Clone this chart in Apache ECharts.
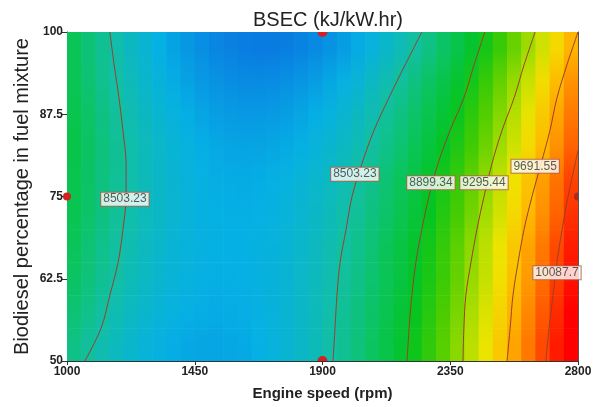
<!DOCTYPE html>
<html><head><meta charset="utf-8">
<script src="https://cdn.jsdelivr.net/npm/echarts@6/dist/echarts.min.js"></script>
<style>html,body{margin:0;padding:0;background:#fff}#chart{width:601px;height:407px}</style>
</head><body><div id="chart"></div>
<script>
// ---- data ----
const titleText = 'BSEC (kJ/kW.hr)';
const xName = 'Engine speed (rpm)';
const yName = 'Biodiesel percentage in fuel mixture';
const xTickValues = [1000, 1450, 1900, 2350, 2800];
const yTickValues = [50, 62.5, 75, 87.5, 100];

// cell centres of the response-surface grid
const speedCenters = [1025,1075,1125,1175,1225,1275,1325,1375,1425,1475,1525,1575,1625,1675,1725,1775,1825,1875,1925,1975,2025,2075,2125,2175,2225,2275,2325,2375,2425,2475,2525,2575,2625,2675,2725,2775];
const bioCenters = [52.5, 57.5, 62.5, 67.5, 72.5, 77.5, 82.5, 87.5, 92.5, 97.5];

// estimated BSEC (kJ/kW.hr) per cell, one row per biodiesel level (bottom to top)
const bsec52_5 = [8579,8518,8463,8415,8374,8339,8311,8290,8275,8267,8265,8270,8282,8300,8325,8356,8394,8438,8490,8547,8612,8683,8760,8844,8935,9032,9136,9247,9364,9488,9618,9755,9899,10049,10206,10369];
const bsec57_5 = [8632,8567,8510,8458,8414,8376,8345,8320,8302,8290,8285,8287,8295,8310,8331,8359,8394,8435,8483,8538,8599,8666,8741,8821,8909,9003,9104,9211,9325,9445,9572,9706,9846,9993,10146,10306];
const bsec62_5 = [8677,8610,8549,8494,8446,8405,8370,8342,8321,8306,8298,8296,8301,8313,8331,8356,8387,8425,8469,8521,8578,8643,8714,8791,8875,8966,9063,9167,9278,9395,9519,9649,9786,9930,10080,10237];
const bsec67_5 = [8699,8630,8567,8511,8462,8419,8383,8353,8330,8313,8303,8300,8303,8313,8330,8353,8383,8419,8462,8511,8567,8630,8699,8775,8858,8947,9043,9145,9254,9369,9491,9620,9755,9897,10046,10201];
const bsec72_5 = [8732,8660,8594,8534,8482,8435,8396,8363,8336,8317,8303,8297,8297,8303,8317,8336,8363,8396,8435,8482,8534,8594,8660,8732,8812,8897,8990,9089,9194,9307,9425,9551,9683,9821,9967,10118];
const bsec77_5 = [8741,8666,8599,8538,8483,8435,8394,8359,8331,8310,8295,8287,8285,8290,8302,8320,8345,8376,8414,8458,8510,8567,8632,8703,8780,8864,8955,9052,9156,9267,9384,9508,9638,9775,9919,10069];
const bsec82_5 = [8755,8678,8607,8542,8485,8433,8389,8351,8320,8295,8277,8265,8260,8262,8270,8285,8306,8334,8369,8410,8458,8513,8574,8641,8716,8796,8884,8978,9079,9186,9300,9420,9547,9681,9821,9968];
const bsec87_5 = [8741,8661,8589,8523,8463,8411,8364,8325,8292,8265,8246,8232,8226,8226,8232,8246,8265,8292,8325,8364,8411,8463,8523,8589,8661,8741,8826,8919,9018,9123,9236,9354,9480,9612,9750,9896];
const bsec92_5 = [8716,8636,8561,8494,8433,8378,8330,8289,8254,8226,8205,8190,8182,8180,8185,8197,8215,8240,8271,8309,8353,8405,8462,8527,8598,8675,8759,8850,8947,9051,9162,9279,9403,9533,9670,9814];
const bsec97_5 = [8709,8625,8548,8477,8412,8355,8303,8259,8221,8190,8165,8147,8135,8130,8132,8140,8155,8176,8204,8239,8280,8328,8383,8444,8511,8586,8666,8754,8848,8949,9056,9170,9290,9417,9551,9691];
const bsecRows = [bsec52_5,bsec57_5,bsec62_5,bsec67_5,bsec72_5,bsec77_5,bsec82_5,bsec87_5,bsec92_5,bsec97_5];

// contour lines [rpm, %]
const contourLevels = [8503.23, 8503.23, 8899.34, 9295.44, 9691.55, 10087.7];
const contour8503a = [[1063,50],[1120,55],[1151,60],[1180,65],[1197,70],[1208,75],[1208,80],[1197,85],[1183,90],[1166,95],[1151,100]];
const contour8503b = [[1937,50],[1944,55],[1951,60],[1962,65],[1983,70],[2004,75],[2039,80],[2081,85],[2134,90],[2191,95],[2250,100]];
const contour8899 = [[2198,50],[2205,55],[2215,60],[2229,65],[2250,70],[2275,75],[2307,80],[2349,85],[2398,90],[2434,95],[2472,100]];
const contour9295 = [[2395,50],[2398,55],[2405,60],[2423,65],[2444,70],[2469,75],[2497,80],[2532,85],[2575,90],[2610,95],[2649,100]];
const contour9691 = [[2550,50],[2561,55],[2571,60],[2589,65],[2610,70],[2638,75],[2670,80],[2701,85],[2726,90],[2761,95],[2800,100]];
const contour10087 = [[2687,50],[2698,55],[2712,60],[2726,65],[2744,70],[2765,75],[2790,80],[2800,82]];
const contourLines = [contour8503a, contour8503b, contour8899, contour9295, contour9691, contour10087];
const labelTexts = ['8503.23','8503.23','8899.34','9295.44','9691.55','10087.7'];
const labelSpeed = [1204, 2014, 2282, 2469, 2649, 2726];
const labelBio = [74.6, 78.4, 77.1, 77.1, 79.6, 63.4];

// design points
const designSpeed = [1900, 1900, 1000, 2800];
const designBio = [100, 50, 75, 75];

// colour scale (value range and ramp)
const colorMin = 8100, colorMax = 10300;
const colorRamp = ['#0a72e0','#05b0e4','#12bfa4','#0ac45a','#04c420','#48cc00','#a0dc00','#f0e400','#ffb400','#ff7800','#ff3800','#ff0000'];

// ---- build ----
const nRows = bsecRows.length, nCols = speedCenters.length;
const cellData = [];
bsecRows.forEach((row, r) => row.forEach((v, c) => cellData.push([speedCenters[c], bioCenters[r], v, r, c])));
const dx = speedCenters[1] - speedCenters[0];
const dy = bioCenters[1] - bioCenters[0];
const FONT = 'Liberation Sans, Arial, sans-serif';
function colorOf(v) {
  const t = Math.max(0, Math.min(1, (v - colorMin) / (colorMax - colorMin)));
  return echarts.color.lerp(t, colorRamp);
}
function mix(a, b) { return echarts.color.lerp(0.5, [a, b]); }

const chart = echarts.init(document.getElementById('chart'), null, {renderer: 'canvas'});
const axisLineStyle = {color: '#333', width: 1};
const plainNum = v => String(v);
chart.setOption({
  animation: false,
  backgroundColor: '#fff',
  title: {text: titleText, left: 248, top: 5, textStyle: {fontFamily: FONT, fontSize: 20, fontWeight: 'normal', color: '#222'}},
  grid: {left: 67, right: 23, top: 32, bottom: 46},
  xAxis: [
    {type: 'value', min: 1000, max: 2800, position: 'bottom',
     axisLine: {show: true, onZero: false, lineStyle: axisLineStyle},
     axisTick: {show: true, length: 4, customValues: xTickValues, lineStyle: axisLineStyle},
     axisLabel: {customValues: xTickValues, formatter: plainNum, fontFamily: FONT, fontWeight: 'bold', fontSize: 12, color: '#222', margin: 5},
     splitLine: {show: false},
     name: xName, nameLocation: 'middle', nameGap: 25,
     nameTextStyle: {fontFamily: FONT, fontWeight: 'bold', fontSize: 15, color: '#222'}},
    {type: 'value', min: 1000, max: 2800, position: 'top',
     axisLine: {show: true, onZero: false, lineStyle: {color: '#555', width: 1}},
     axisTick: {show: false}, axisLabel: {show: false}, splitLine: {show: false}}
  ],
  yAxis: [
    {type: 'value', min: 50, max: 100, position: 'left',
     axisLine: {show: true, onZero: false, lineStyle: axisLineStyle},
     axisTick: {show: true, length: 5, customValues: yTickValues, lineStyle: axisLineStyle},
     axisLabel: {customValues: yTickValues, formatter: plainNum, fontFamily: FONT, fontWeight: 'bold', fontSize: 12, color: '#222', margin: 4},
     splitLine: {show: false},
     name: yName, nameLocation: 'middle', nameGap: 35, nameMoveOverlap: false,
     nameTextStyle: {fontFamily: FONT, fontWeight: 'normal', fontSize: 20, color: '#222'}},
    {type: 'value', min: 50, max: 100, position: 'right',
     axisLine: {show: true, onZero: false, lineStyle: {color: '#555', width: 1}},
     axisTick: {show: false}, axisLabel: {show: false}, splitLine: {show: false}}
  ],
  series: [
    {type: 'custom', name: 'BSEC', data: cellData, clip: true, z: 1,
     encode: {x: 0, y: 1},
     renderItem: function (params, api) {
       const x = api.value(0), y = api.value(1), v = api.value(2);
       const r = api.value(3), c = api.value(4);
       const p1 = api.coord([x - dx / 2, y + dy / 2]);
       const p2 = api.coord([x + dx / 2, y - dy / 2]);
       const here = colorOf(v);
       const above = r < nRows - 1 ? mix(here, colorOf(bsecRows[r + 1][c])) : here;
       const below = r > 0 ? mix(here, colorOf(bsecRows[r - 1][c])) : here;
       const fill = new echarts.graphic.LinearGradient(0, 0, 0, 1, [
         {offset: 0, color: above}, {offset: 0.5, color: here}, {offset: 1, color: below}]);
       return {type: 'rect', shape: {x: p1[0], y: p1[1], width: p2[0] - p1[0] + 0.7, height: p2[1] - p1[1] + 0.5},
               style: {fill: fill}};
     }},
    ...contourLines.map((pts, i) => ({
      type: 'line', name: String(contourLevels[i]), data: pts, smooth: 0.35, showSymbol: false, symbol: 'none',
      clip: true, z: 3, silent: true,
      lineStyle: {color: '#9a4028', width: 1}
    })),
    {type: 'scatter', z: 6, symbolSize: 0.1, itemStyle: {color: 'transparent'}, silent: true,
     data: labelTexts.map((t, i) => ({name: t, value: [labelSpeed[i], labelBio[i]]})),
     label: {show: true, position: 'inside', formatter: '{b}', fontFamily: FONT, fontSize: 12, color: '#333',
             backgroundColor: '#fff', borderColor: '#b06048', borderWidth: 1, padding: [1, 2, 0, 2]}},
    {type: 'custom', z: 5, silent: true,
     data: designSpeed.map((s, i) => [s, designBio[i]]),
     encode: {x: 0, y: 1},
     renderItem: function (params, api) {
       const p = api.coord([api.value(0), api.value(1)]);
       const cs = params.coordSys;
       let sa = 0, ea = Math.PI * 2, r = 5, fill = '#d42020';
       if (Math.abs(p[1] - cs.y) < 1) { sa = 0; ea = Math.PI; }
       else if (Math.abs(p[1] - (cs.y + cs.height)) < 1) { sa = Math.PI; ea = Math.PI * 2; }
       else if (Math.abs(p[0] - (cs.x + cs.width)) < 1) { sa = Math.PI / 2; ea = Math.PI * 1.5; r = 4; fill = '#a03020'; }
       else { r = 4; }
       return {type: 'sector', shape: {cx: p[0], cy: p[1], r0: 0, r: r, startAngle: sa, endAngle: ea, clockwise: true},
               style: {fill: fill}};
     }}
  ]
});
</script>
</body></html>
